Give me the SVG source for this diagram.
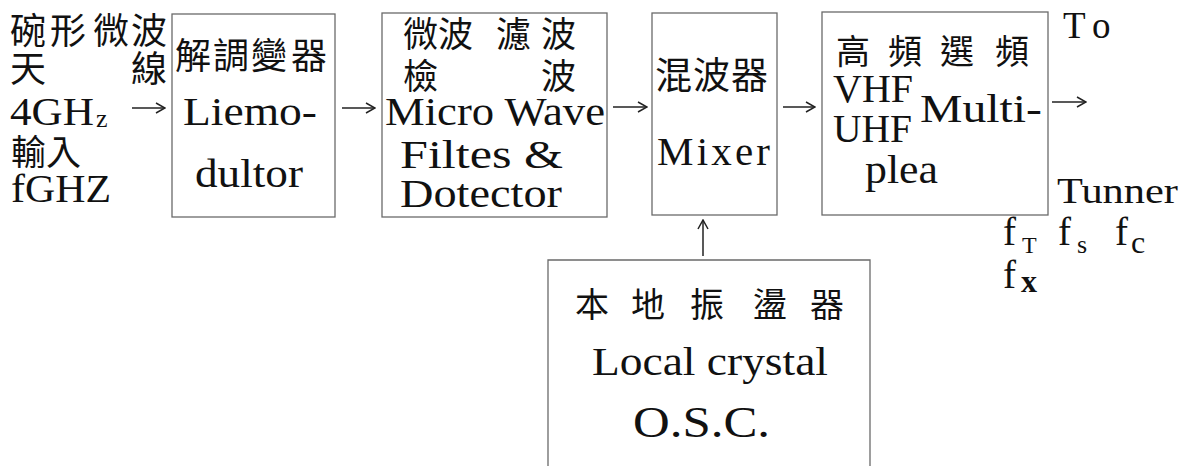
<svg xmlns="http://www.w3.org/2000/svg" width="1196" height="466" viewBox="0 0 1196 466">
<style>
.box{fill:none;stroke:#6a6a6a;stroke-width:1.3}
.cjk{font-family:"Noto Sans CJK TC","Noto Sans CJK SC",sans-serif;font-size:35px;fill:#111}
.lat{font-family:"Liberation Serif",serif;font-size:40px;fill:#111}
.sub{font-family:"Liberation Serif",serif;font-size:24px;fill:#111}
.arr{fill:none;stroke:#222;stroke-width:1.5;marker-end:url(#ah)}
</style>
<defs>
<marker id="ah" markerUnits="userSpaceOnUse" viewBox="-1 -6 11 12" refX="9" refY="0" markerWidth="11" markerHeight="12" orient="auto">
<path d="M0,-5 L9,0 L0,5" fill="none" stroke="#222" stroke-width="1.5"/>
</marker>
</defs>
<rect width="1196" height="466" fill="#fff"/>

<g id="input-label">
<text class="cjk" style="font-size:36px" y="44"><tspan x="10">碗</tspan><tspan x="50">形</tspan><tspan x="93">微</tspan><tspan x="131">波</tspan></text>
<text class="cjk" style="font-size:36px" y="82"><tspan x="10">天</tspan><tspan x="131">線</tspan></text>
<text class="lat" x="10" y="125" textLength="84" lengthAdjust="spacingAndGlyphs">4GH</text>
<text class="sub" style="font-size:26px" x="96" y="127">z</text>
<text class="cjk" style="font-size:35px" y="165"><tspan x="11">輸</tspan><tspan x="46">入</tspan></text>
<text class="lat" x="11" y="202" textLength="100" lengthAdjust="spacingAndGlyphs">fGHZ</text>
</g>

<g id="demodulator">
<rect class="box" x="172" y="14" width="163" height="203"/>
<text class="cjk" style="font-size:36px" y="69"><tspan x="175">解</tspan><tspan x="213">調</tspan><tspan x="251">變</tspan><tspan x="291">器</tspan></text>
<text class="lat" x="183" y="125" textLength="134" lengthAdjust="spacingAndGlyphs">Liemo-</text>
<text class="lat" x="195" y="187" textLength="108" lengthAdjust="spacingAndGlyphs">dultor</text>
</g>

<g id="filter-detector">
<rect class="box" x="382" y="13" width="225" height="204"/>
<text class="cjk" y="47"><tspan x="403">微</tspan><tspan x="438">波</tspan><tspan x="496">濾</tspan><tspan x="541">波</tspan></text>
<text class="cjk" y="89"><tspan x="403">檢</tspan><tspan x="541">波</tspan></text>
<text class="lat" x="385" y="125" textLength="220" lengthAdjust="spacingAndGlyphs">Micro Wave</text>
<text class="lat" x="400" y="168" textLength="163" lengthAdjust="spacingAndGlyphs">Filtes &amp;</text>
<text class="lat" x="400" y="207" textLength="162" lengthAdjust="spacingAndGlyphs">Dotector</text>
</g>

<g id="mixer">
<rect class="box" x="652" y="13" width="125" height="202"/>
<text class="cjk" style="font-size:37px" y="89"><tspan x="655">混</tspan><tspan x="693">波</tspan><tspan x="731">器</tspan></text>
<text class="lat" style="font-size:41px" x="657" y="165" textLength="113" lengthAdjust="spacing">Mixer</text>
</g>

<g id="hf-selector">
<rect class="box" x="822" y="12" width="226" height="203"/>
<text class="cjk" style="font-size:34px" y="64"><tspan x="836">高</tspan><tspan x="888">頻</tspan><tspan x="940">選</tspan><tspan x="995">頻</tspan></text>
<text class="lat" x="833" y="102" textLength="80" lengthAdjust="spacingAndGlyphs">VHF</text>
<text class="lat" x="833" y="142" textLength="79" lengthAdjust="spacingAndGlyphs">UHF</text>
<text class="lat" x="920" y="122" textLength="122" lengthAdjust="spacingAndGlyphs">Multi-</text>
<text class="lat" x="865" y="183" textLength="73" lengthAdjust="spacingAndGlyphs">plea</text>
</g>

<g id="output-label">
<text class="lat" style="font-size:37px;letter-spacing:9px" x="1063" y="38">To</text>
<text class="lat" style="font-size:36px" x="1057" y="203" textLength="121" lengthAdjust="spacingAndGlyphs">Tunner</text>
<text class="lat" style="font-size:39px" x="1003" y="245">f</text>
<text class="sub" x="1022" y="253">T</text>
<text class="lat" style="font-size:39px" x="1058" y="245">f</text>
<text class="sub" style="font-size:26px" x="1077" y="253">s</text>
<text class="lat" style="font-size:39px" x="1115" y="245">f</text>
<text class="sub" style="font-size:32px" x="1131" y="253">c</text>
<text class="lat" style="font-size:39px" x="1003" y="288">f</text>
<text class="sub" style="font-size:32px;font-weight:bold" x="1021" y="292">x</text>
</g>

<g id="local-oscillator">
<path class="box" d="M548,466 V260 H870 V466"/>
<text class="cjk" style="font-size:34px" y="317"><tspan x="575">本</tspan><tspan x="631">地</tspan><tspan x="690">振</tspan><tspan x="753">盪</tspan><tspan x="810">器</tspan></text>
<text class="lat" x="592" y="375" textLength="236" lengthAdjust="spacingAndGlyphs">Local crystal</text>
<text class="lat" style="font-size:45px" x="633" y="437" textLength="137" lengthAdjust="spacingAndGlyphs">O.S.C.</text>
</g>

<g id="connectors">
<line class="arr" x1="132" y1="108" x2="165" y2="108"/>
<line class="arr" x1="342" y1="108" x2="375" y2="108"/>
<line class="arr" x1="613" y1="107" x2="647" y2="107"/>
<line class="arr" x1="783" y1="107" x2="815" y2="107"/>
<line class="arr" x1="1052" y1="102" x2="1086" y2="102"/>
<line class="arr" x1="703" y1="256" x2="703" y2="220"/>
</g>
</svg>
